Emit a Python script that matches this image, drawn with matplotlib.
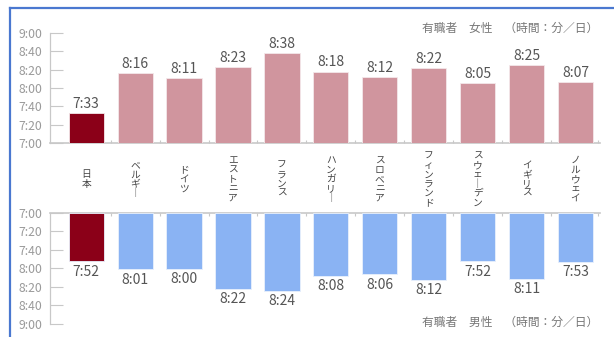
import matplotlib
matplotlib.use("Agg")
import matplotlib.pyplot as plt
from matplotlib.lines import Line2D
from matplotlib.transforms import blended_transform_factory

plt.rcParams["font.family"] = ["Noto Sans CJK JP", "DejaVu Sans"]

countries = ["日本", "ベルギー", "ドイツ", "エストニア", "フランス", "ハンガリー",
             "スロベニア", "フィンランド", "スウェーデン", "イギリス", "ノルウェイ"]
women = ["7:33", "8:16", "8:11", "8:23", "8:38", "8:18", "8:12", "8:22", "8:05", "8:25", "8:07"]
men = ["7:52", "8:01", "8:00", "8:22", "8:24", "8:08", "8:06", "8:12", "7:52", "8:11", "7:53"]
yticks = ["7:00", "7:20", "7:40", "8:00", "8:20", "8:40", "9:00"]

PINK = "#d0959e"
BLUE = "#8ab3f3"
JAPAN = "#8b0018"
TICK = "#9a9a9a"
LABEL = "#555555"
SPINE = "#c8c8c8"


def mins(s):
    h, m = s.split(":")
    return int(h) * 60 + int(m)


def vertical(s):
    return "\n".join("｜" if c == "ー" else c for c in s)


W, H = 614, 337
fig = plt.figure(figsize=(W / 100, H / 100), dpi=100)
ax_w = fig.add_axes([50 / W, 1 - 143 / H, 550 / W, 110 / H])
ax_m = fig.add_axes([50 / W, 1 - 324 / H, 550 / W, 111 / H])

x = list(range(len(countries)))
base = mins(yticks[0])
top = mins(yticks[-1])
ytick_vals = [mins(t) for t in yticks]

for ax, data, color, inverted in ((ax_w, women, PINK, False), (ax_m, men, BLUE, True)):
    vals = [mins(v) for v in data]
    cols = [JAPAN] + [color] * (len(vals) - 1)
    ax.bar(x, [v - base for v in vals], bottom=base, width=0.72, color=cols,
           edgecolor="#f4e8ea" if not inverted else "#e8f0fc", linewidth=0.6, zorder=3)
    for xi, v, s in zip(x, vals, data):
        if inverted:
            ax.annotate(s, (xi, v), xytext=(0, -2.5), textcoords="offset points",
                        ha="center", va="top", fontsize=10, color=LABEL)
        else:
            ax.annotate(s, (xi, v), xytext=(0, 1.5), textcoords="offset points",
                        ha="center", va="bottom", fontsize=10, color=LABEL)
    ax.set_xlim(-0.74, 10.5)
    if inverted:
        ax.set_ylim(top, base)
    else:
        ax.set_ylim(base, top)
    ax.set_yticks(ytick_vals)
    ax.set_yticklabels(yticks)
    ax.set_xticks([])
    ax.set_xticks([i + 0.5 for i in x[:-1]] + [10.45], minor=True)
    ax.tick_params(axis="y", direction="in", length=9.5, width=0.8, color=SPINE,
                   labelcolor=TICK, labelsize=8.8, pad=5.5)
    ax.tick_params(axis="x", which="minor", direction="in", length=2, width=0.8, color=SPINE)
    for s in ("top", "right", "bottom"):
        ax.spines[s].set_visible(False)
    ax.spines["left"].set_color(SPINE)
    ax.spines["left"].set_linewidth(0.9)
    edge = "top" if inverted else "bottom"
    ax.spines[edge].set_visible(True)
    ax.spines[edge].set_color(SPINE)
    ax.spines[edge].set_linewidth(1.2)
    ax.patch.set_visible(False)

ax_m.tick_params(axis="x", which="minor", top=True, bottom=False)

tr = blended_transform_factory(ax_w.transData, fig.transFigure)
for xi, c in zip(x, countries):
    fig.text(xi, 1 - 179 / H, vertical(c), transform=tr, ha="center", va="center",
             fontsize=7, linespacing=0.92, color="#444444")

fig.text(598 / W, 1 - 28 / H, "有職者　女性　（時間：分／日）", ha="right", va="center",
         fontsize=8.5, color="#777777")
fig.text(598 / W, 1 - 322 / H, "有職者　男性　（時間：分／日）", ha="right", va="center",
         fontsize=8.5, color="#777777")

# blue frame at top and left
fig.add_artist(Line2D([10 / W, 1], [1 - 7.5 / H, 1 - 7.5 / H], color="#4a78d0", lw=1.6))
fig.add_artist(Line2D([10 / W, 10 / W], [0, 1 - 7.5 / H], color="#4a78d0", lw=1.6))

fig.savefig("out.png", dpi=100)
